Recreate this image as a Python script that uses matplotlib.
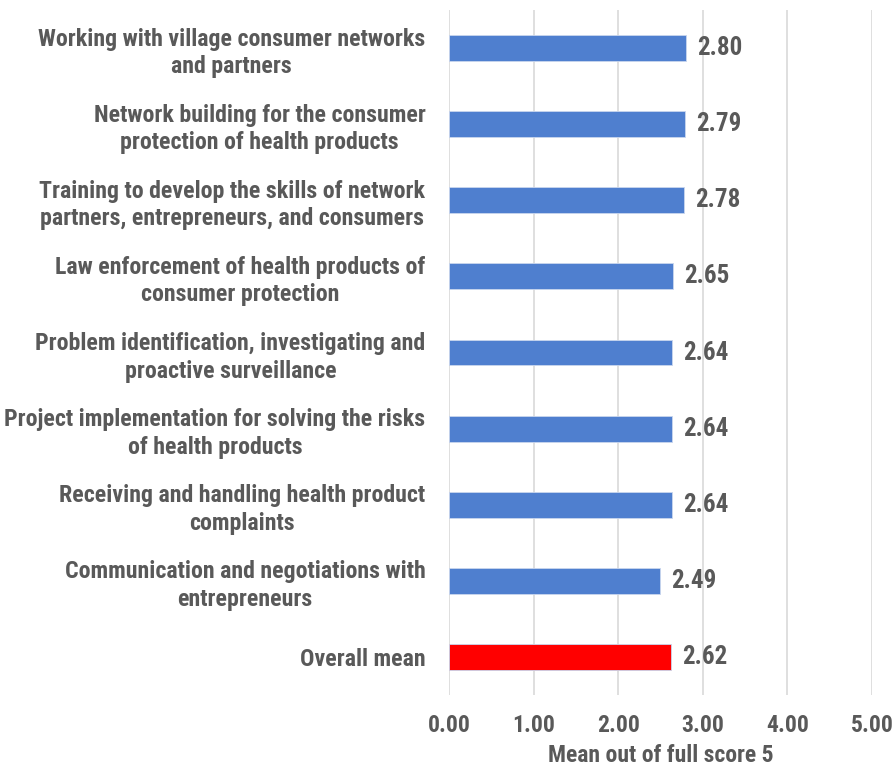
import matplotlib
import matplotlib.pyplot as plt

plt.rcParams['font.family'] = ['Roboto Condensed', 'PT Sans Narrow', 'DejaVu Sans']
plt.rcParams['font.weight'] = 'bold'

categories = ['Working with village consumer networks\nand partners',
              'Network building for the consumer\nprotection of health products',
              'Training to develop the skills of network\npartners, entrepreneurs, and consumers',
              'Law enforcement of health products of\nconsumer protection',
              'Problem identification, investigating and\nproactive surveillance',
              'Project implementation for solving the risks\nof health products',
              'Receiving and handling health product\ncomplaints',
              'Communication and negotiations with\nentrepreneurs',
              'Overall mean']
values = [2.80, 2.79, 2.78, 2.65, 2.64, 2.64, 2.64, 2.49, 2.62]
colors = ['#4f7fcf'] * 8 + ['#ff0000']
xticks = [0, 1, 2, 3, 4, 5]

gray = '#595959'
fig = plt.figure(figsize=(8.92, 7.71), dpi=100)
ax = fig.add_axes([0.5034, 0.0986, 0.4742, 0.8884])

ypos = list(range(len(categories)))
ax.barh(ypos, values, height=0.34, color=colors, edgecolor='#c9d6ee', linewidth=0.6, zorder=3)
for y, v in zip(ypos, values):
    ax.text(v + 0.13, y, '%.2f' % v, va='center', ha='left', fontsize=18, color=gray, fontweight='bold')

ax.set_ylim(len(categories) - 0.5, -0.5)
ax.set_xlim(0, 5)
ax.set_yticks(ypos)
ax.set_yticklabels(categories, fontsize=17.2, color=gray, linespacing=1.25)
for lab in ax.get_yticklabels():
    lab.set_multialignment('center')
ax.set_xticks(xticks)
ax.set_xticklabels(['%.2f' % t for t in xticks], fontsize=17, color=gray)
ax.tick_params(axis='both', length=0)
ax.tick_params(axis='y', pad=17)
ax.tick_params(axis='x', pad=14)
ax.grid(axis='x', color='#d9d9d9', linewidth=1.2, zorder=0)
for s in ax.spines.values():
    s.set_visible(False)
ax.set_xlabel('Mean out of full score 5', fontsize=17, color=gray, fontweight='bold', labelpad=5)

fig.savefig('out.png', dpi=100)
